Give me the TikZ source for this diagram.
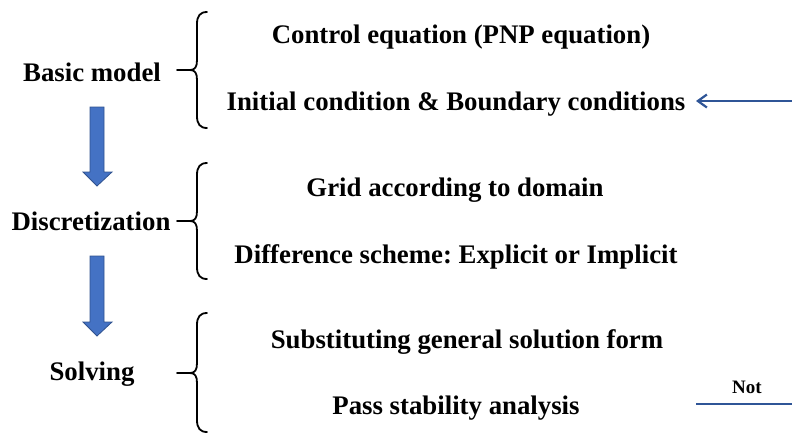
\documentclass[tikz,border=0pt]{standalone}
\usepackage{fontspec}
\setmainfont{Liberation Serif}
\usetikzlibrary{arrows.meta,calc}
\definecolor{blockfill}{HTML}{4472C4}
\definecolor{blockedge}{HTML}{2F528F}
\definecolor{linkblue}{HTML}{2F5597}
\frenchspacing
\newcommand{\leftbrc}[3]{%
  \draw[bracestyle] (207,#1) .. controls (200,#1) and (197,{#1+4}) .. (197,{#1+12})
    -- (197,{#2-10}) .. controls (197,{#2-3}) and (195,#2) .. (190,#2)
    .. controls (195,#2) and (197,{#2+3}) .. (197,{#2+10})
    -- (197,{#3-12}) .. controls (197,{#3-4}) and (200,#3) .. (207,#3);
  \draw[bracestyle] (177,#2) -- (190,#2);}
\begin{document}
\begin{tikzpicture}[x=1pt,y=-1pt,
  txt/.style={font=\fontsize{26.8}{30}\selectfont\bfseries, inner sep=0pt, anchor=base},
  small/.style={font=\fontsize{19}{22}\selectfont\bfseries, inner sep=0pt, anchor=base},
  bracestyle/.style={line width=1.8pt, line cap=round, line join=round, black},
  block/.style={fill=blockfill, draw=blockedge, line width=0.8pt, line join=miter},
  link/.style={draw=linkblue, line width=2.2pt}]
\useasboundingbox (0,0) rectangle (792,432);

% left labels
\node[txt] (basic) at (92,81) {Basic model};
\node[txt] (disc) at (91,230) {Discretization};
\node[txt] (solv) at (92,380) {Solving};

% right items
\node[txt] (ctrl) at (461,43) {Control equation (PNP equation)};
\node[txt] (init) at (456,110) {Initial condition \& Boundary conditions};
\node[txt] (grid) at (455,196) {Grid according to domain};
\node[txt] (diff) at (456,263) {Difference scheme: Explicit or Implicit};
\node[txt] (subs) at (467,348) {Substituting general solution form};
\node[txt] (pass) at (456,414) {Pass stability analysis};
\node[small] (not) at (747,393) {Not};

% braces
\leftbrc{12}{70}{128}
\leftbrc{163}{221}{279}
\leftbrc{313}{373}{432}

% block arrows
\draw[block] (90,107) -- (104,107) -- (104,172) -- (112,172) -- (97,186) -- (83,172) -- (90,172) -- cycle;
\draw[block] (90,256) -- (104,256) -- (104,322) -- (112,322) -- (97,336) -- (83,322) -- (90,322) -- cycle;

% feedback connectors
\coordinate (inR) at (794,101);
\coordinate (inL) at (696,101);
\draw[link, -{Straight Barb[length=9pt,width=13pt,line width=2.2pt]}] (inR) -- (inL);
\coordinate (notL) at (696,404);
\coordinate (notR) at (794,404);
\draw[link] (notL) -- (notR);
\end{tikzpicture}
\end{document}
